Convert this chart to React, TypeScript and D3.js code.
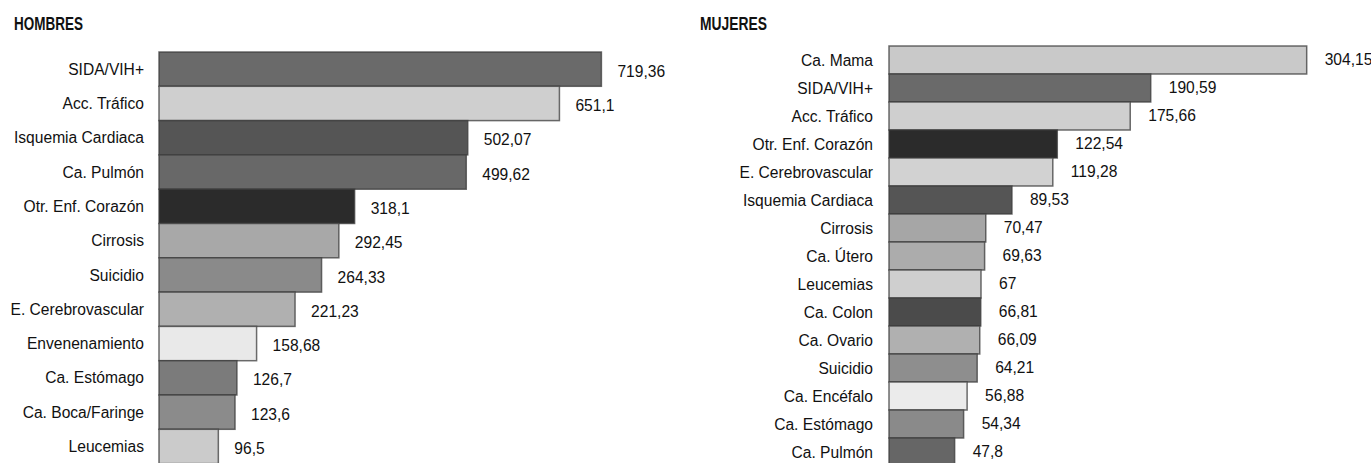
import React from "react";
import * as d3 from "d3";

const menCategories = [
  "SIDA/VIH+",
  "Acc. Tráfico",
  "Isquemia Cardiaca",
  "Ca. Pulmón",
  "Otr. Enf. Corazón",
  "Cirrosis",
  "Suicidio",
  "E. Cerebrovascular",
  "Envenenamiento",
  "Ca. Estómago",
  "Ca. Boca/Faringe",
  "Leucemias",
];
const menValues = [719.36, 651.1, 502.07, 499.62, 318.1, 292.45, 264.33, 221.23, 158.68, 126.7, 123.6, 96.5];
const menLabels = ["719,36", "651,1", "502,07", "499,62", "318,1", "292,45", "264,33", "221,23", "158,68", "126,7", "123,6", "96,5"];
const menColors = ["#6a6a6a", "#cfcfcf", "#555555", "#686868", "#2b2b2b", "#a8a8a8", "#8a8a8a", "#b0b0b0", "#e9e9e9", "#7b7b7b", "#8b8b8b", "#cbcbcb"];

const womenCategories = [
  "Ca. Mama",
  "SIDA/VIH+",
  "Acc. Tráfico",
  "Otr. Enf. Corazón",
  "E. Cerebrovascular",
  "Isquemia Cardiaca",
  "Cirrosis",
  "Ca. Útero",
  "Leucemias",
  "Ca. Colon",
  "Ca. Ovario",
  "Suicidio",
  "Ca. Encéfalo",
  "Ca. Estómago",
  "Ca. Pulmón",
];
const womenValues = [304.15, 190.59, 175.66, 122.54, 119.28, 89.53, 70.47, 69.63, 67, 66.81, 66.09, 64.21, 56.88, 54.34, 47.8];
const womenLabels = ["304,15", "190,59", "175,66", "122,54", "119,28", "89,53", "70,47", "69,63", "67", "66,81", "66,09", "64,21", "56,88", "54,34", "47,8"];
const womenColors = ["#c9c9c9", "#6a6a6a", "#cfcfcf", "#2b2b2b", "#d2d2d2", "#555555", "#a6a6a6", "#acacac", "#cfcfcf", "#4b4b4b", "#b0b0b0", "#8e8e8e", "#ebebeb", "#8a8a8a", "#666666"];

const FONT = "'Liberation Sans', Arial, Helvetica, sans-serif";

type PanelProps = {
  title: string;
  titleX: number;
  titleLen: number;
  categories: string[];
  values: number[];
  labels: string[];
  colors: string[];
  x0: number;
  pxPerUnit: number;
  y0: number;
  rowH: number;
  labelGap: number;
  valueGap: number;
  valueDy: number;
};

function Panel(p: PanelProps) {
  const maxV = d3.max(p.values) as number;
  const x = d3.scaleLinear().domain([0, maxV]).range([p.x0, p.x0 + maxV * p.pxPerUnit]);
  const y = d3
    .scaleBand<string>()
    .domain(p.categories)
    .range([p.y0, p.y0 + p.categories.length * p.rowH])
    .paddingInner(0)
    .paddingOuter(0);
  const bw = y.bandwidth();
  return (
    <g>
      <text
        x={p.titleX}
        y={29.5}
        fontFamily={FONT}
        fontWeight="bold"
        fontSize={18.5}
        textLength={p.titleLen}
        lengthAdjust="spacingAndGlyphs"
        fill="#111"
      >
        {p.title}
      </text>
      {p.categories.map((c, i) => {
        const yy = y(c) as number;
        return (
          <g key={c + i}>
            <rect
              x={x(0)}
              y={yy}
              width={x(p.values[i]) - x(0)}
              height={bw}
              fill={p.colors[i]}
              stroke="#3c3c3c"
              strokeOpacity={0.75}
              strokeWidth={1.5}
            />
            <text
              x={x(0) - p.labelGap}
              y={yy + bw / 2}
              dy="0.36em"
              textAnchor="end"
              fontFamily={FONT}
              fontSize={15.6}
              fill="#111"
            >
              {c}
            </text>
            <text
              x={x(p.values[i]) + p.valueGap}
              y={yy + bw / 2 + p.valueDy}
              dy="0.36em"
              fontFamily={FONT}
              fontSize={15.6}
              fill="#111"
            >
              {p.labels[i]}
            </text>
          </g>
        );
      })}
    </g>
  );
}

export default function App() {
  return (
    <svg
      width={1371}
      height={463}
      style={{ position: "absolute", left: 0, top: 0, background: "#fff", display: "block" }}
    >
      <rect x={0} y={0} width={1371} height={463} fill="#fff" />
      <Panel
        title="HOMBRES"
        titleX={14}
        titleLen={69}
        categories={menCategories}
        values={menValues}
        labels={menLabels}
        colors={menColors}
        x0={159}
        pxPerUnit={0.615}
        y0={52}
        rowH={34.3}
        labelGap={15}
        valueGap={16}
        valueDy={2}
      />
      <Panel
        title="MUJERES"
        titleX={700}
        titleLen={67}
        categories={womenCategories}
        values={womenValues}
        labels={womenLabels}
        colors={womenColors}
        x0={889}
        pxPerUnit={1.3733}
        y0={46}
        rowH={28}
        labelGap={16}
        valueGap={18}
        valueDy={-1}
      />
    </svg>
  );
}
